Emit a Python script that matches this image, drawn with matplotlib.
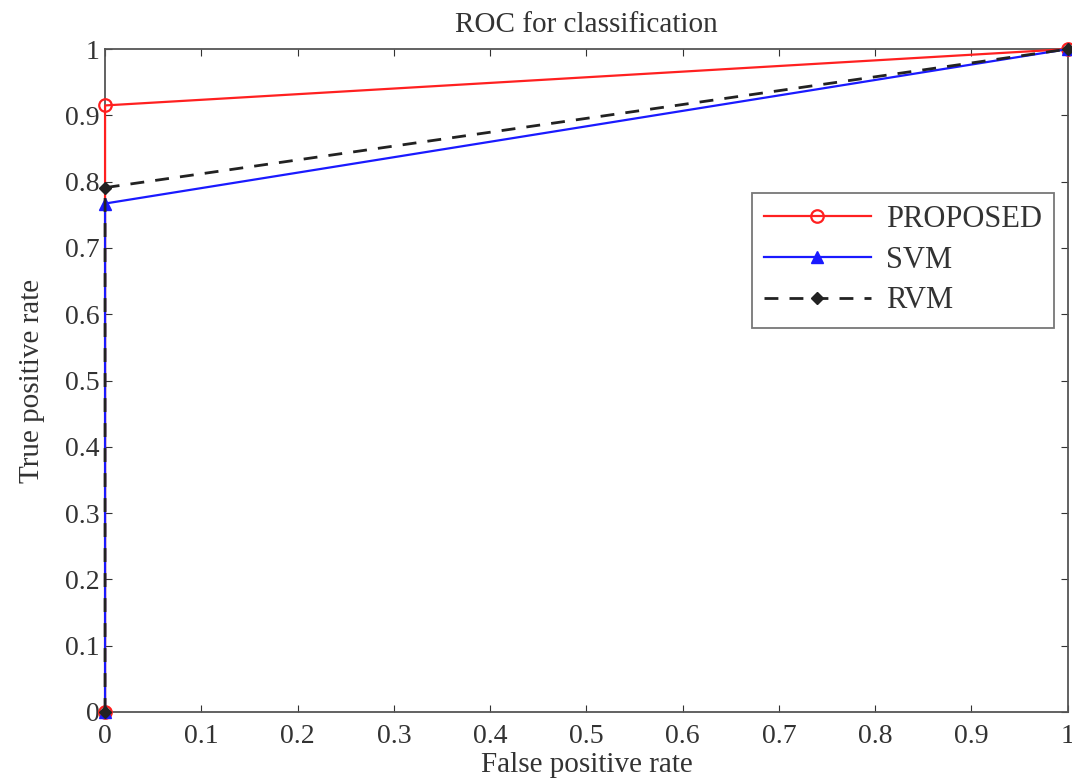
import matplotlib
matplotlib.use("Agg")
import matplotlib.pyplot as plt

plt.rcParams['font.family'] = ['Liberation Serif', 'DejaVu Serif']

fpr = [0, 0, 1]
tpr_proposed = [0, 0.915, 1]
tpr_svm = [0, 0.767, 1]
tpr_rvm = [0, 0.791, 1]
xticks = [0, 0.1, 0.2, 0.3, 0.4, 0.5, 0.6, 0.7, 0.8, 0.9, 1]
yticks = [0, 0.1, 0.2, 0.3, 0.4, 0.5, 0.6, 0.7, 0.8, 0.9, 1]
tick_labels = ['0', '0.1', '0.2', '0.3', '0.4', '0.5', '0.6', '0.7', '0.8', '0.9', '1']

fig = plt.figure(figsize=(10.72, 7.83), dpi=100)
ax = fig.add_axes([0.098, 0.0907, 0.898, 0.8466])

ax.plot(fpr, tpr_proposed, color='#ff2020', lw=1.6, marker='o', ms=9,
        mfc='none', mec='#ff2020', mew=1.6, label='PROPOSED', clip_on=False, zorder=3)
ax.plot(fpr, tpr_svm, color='#1a1aff', lw=1.6, marker='^', ms=8,
        mfc='#1a1aff', mec='#1a1aff', label='SVM', clip_on=False, zorder=4)
ax.plot(fpr, tpr_rvm, color='#222222', lw=2, ls=(0, (5, 4)), marker='D', ms=6,
        mfc='#222222', mec='#222222', label='RVM', clip_on=False, zorder=5)

ax.set_xlim(0, 1)
ax.set_ylim(0, 1)
ax.set_xticks(xticks)
ax.set_xticklabels(tick_labels)
ax.set_yticks(yticks)
ax.set_yticklabels(tick_labels)
ax.tick_params(direction='in', top=True, right=True, labelsize=20, length=5,
               colors='#333333')
ax.tick_params(axis='x', pad=9)
ax.tick_params(axis='y', pad=4)
for s in ax.spines.values():
    s.set_color('#555555')
    s.set_linewidth(1.3)

ax.set_title('ROC for classification', fontsize=21, color='#333333', pad=12)
ax.set_xlabel('False positive rate', fontsize=21, color='#333333', labelpad=2)
ax.set_ylabel('True positive rate', fontsize=21, color='#333333', labelpad=14)

leg = ax.legend(loc='upper right', bbox_to_anchor=(0.986, 0.783), fontsize=22,
                frameon=True, fancybox=False, edgecolor='#555555',
                handlelength=3.5, handletextpad=0.5, borderpad=0.4,
                labelspacing=0.38, borderaxespad=0)
leg.get_frame().set_linewidth(1.3)
for t in leg.get_texts():
    t.set_color('#333333')

fig.savefig('out.png', dpi=100)
